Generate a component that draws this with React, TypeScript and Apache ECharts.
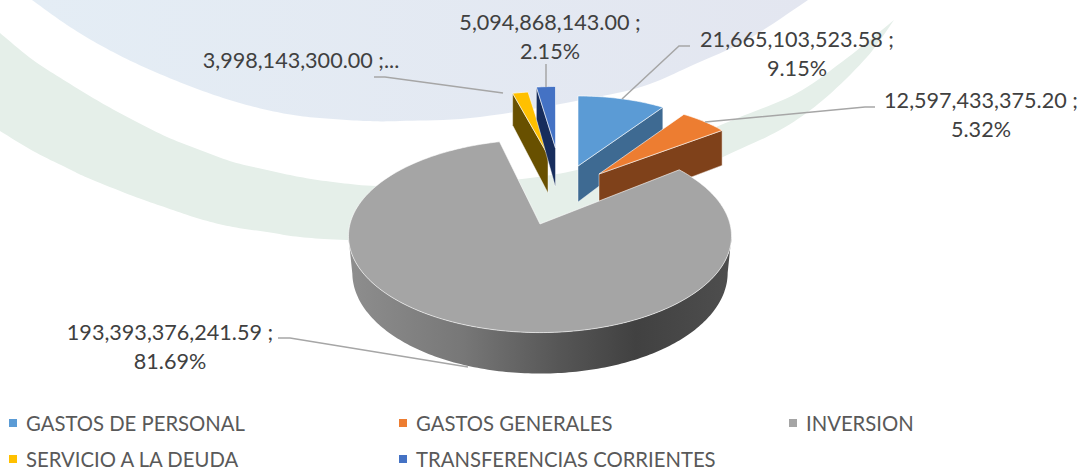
import React, { useEffect, useRef } from "react";
import * as echarts from "echarts";

const sliceNames = ["GASTOS DE PERSONAL", "GASTOS GENERALES", "INVERSION", "SERVICIO A LA DEUDA", "TRANSFERENCIAS CORRIENTES"];
const sliceValues = [21665103523.58, 12597433375.2, 193393376241.59, 3998143300.0, 5094868143.0];
const sliceColors = ["#5b9bd5", "#ed7d31", "#a5a5a5", "#ffc000", "#4472c4"];
const wallColors = ["#3e6a92", "#7f411a", "", "#685000", "#172d5c"];
const truncated = [false, false, false, true, false];

// Projection of each exploded slice (3D pie look)
const geometry = [
  { cx: 578, cy: 166, rx: 156, ry: 70, k: 0, dApex: 36, dOuter: 31, wall: "end" },
  { cx: 599, cy: 174, rx: 156, ry: 71, k: 0, dApex: 38, dOuter: 35, wall: "end" },
  { cx: 540, cy: 224, rx: 190, ry: 95, k: 0.125, dApex: 0, dOuter: 0, wall: "arc" },
  { cx: 548, cy: 155, rx: 148, ry: 63.5, k: 0, dApex: 38, dOuter: 32, wall: "start" },
  { cx: 555.5, cy: 148, rx: 142, ry: 61.5, k: 0, dApex: 39, dOuter: 32, wall: "start" },
];
const labelPos = [[797, 39, 29], [981, 100, 29], [170, 332, 29], [301, 60, 29], [550, 22, 29]];
const leaders = [
  [[622, 99], [679, 46], [690, 46]],
  [[705, 122], [865, 107], [875, 107]],
  [[468, 367], [290, 338], [278, 338]],
  [[503, 93], [385, 77], [374, 77]],
  [[546, 87], [546, 64]],
];
const legendSlots = [[9, 413], [399, 413], [789, 413], [9, 449], [399, 449]];

const blueEdge = [[32, 0], [67, 25], [100, 45], [133, 62], [167, 77], [200, 90], [233, 101], [267, 110], [300, 116], [333, 119], [367, 121], [400, 121], [480, 117], [597, 97], [647, 85], [693, 65], [747, 40], [808, 0]];
const greenUpper = [[0, 33], [33, 60], [67, 82], [100, 102], [133, 120], [167, 137], [200, 150], [233, 162], [267, 170], [300, 177], [333, 182], [377, 186], [450, 186], [522, 179], [577, 170], [640, 152], [700, 133], [740, 117], [797, 93], [847, 58], [894, 20]];
const greenLower = [[894, 20], [867, 57], [823, 100], [780, 130], [723, 157], [640, 198], [540, 232], [440, 241], [347, 240], [300, 237], [267, 232], [233, 227], [200, 219], [167, 208], [133, 196], [88, 178], [67, 168], [33, 151], [0, 131]];

const total = sliceValues.reduce((a, b) => a + b, 0);
const rad = Math.PI / 180;

function smooth(pts: number[][]) {
  const out: number[][] = [];
  for (let i = 0; i < pts.length - 1; i++) {
    const p0 = pts[Math.max(i - 1, 0)], p1 = pts[i], p2 = pts[i + 1], p3 = pts[Math.min(i + 2, pts.length - 1)];
    for (let t = 0; t < 1; t += 0.1) {
      const t2 = t * t, t3 = t2 * t;
      out.push([0, 1].map((d) => 0.5 * (2 * p1[d] + (p2[d] - p0[d]) * t + (2 * p0[d] - 5 * p1[d] + 4 * p2[d] - p3[d]) * t2 + (3 * p1[d] - p0[d] - 3 * p2[d] + p3[d]) * t3)));
    }
  }
  out.push(pts[pts.length - 1]);
  return out;
}

function project(g: any, deg: number) {
  const wx = Math.sin(deg * rad), wy = Math.cos(deg * rad);
  const f = 1 / (1 + g.k * wy);
  return [g.cx + g.rx * wx * f, g.cy - g.ry * wy * f];
}

function sliceAngles(i: number) {
  let s = 0;
  for (let j = 0; j < i; j++) s += sliceValues[j];
  return [(s / total) * 360, ((s + sliceValues[i]) / total) * 360];
}

function labelText(i: number) {
  const v = sliceValues[i].toLocaleString("en-US", { minimumFractionDigits: 2, maximumFractionDigits: 2 });
  if (truncated[i]) return `${v} ;...`;
  return `${v} ;\n${((sliceValues[i] / total) * 100).toFixed(2)}%`;
}

const edgeStroke = "rgba(255,255,255,0.75)";
const labelFont = "21.6px Lato";

function renderSlice(i: number) {
  const g: any = geometry[i];
  const [a0, a1] = sliceAngles(i);
  const children: any[] = [];
  const top: number[][] = [[g.cx, g.cy]];
  for (let a = a0; a < a1; a += 1) top.push(project(g, a));
  top.push(project(g, a1));

  if (g.wall === "arc") {
    const lo = (Math.acos(-g.k) / rad);
    const hi = 360 - lo;
    const upper: number[][] = [], lower: number[][] = [];
    for (let a = lo; a <= hi; a += 1) {
      const p = project(g, a);
      const c = Math.cos(a * rad);
      upper.push(p);
      lower.push([g.cx + (p[0] - g.cx) * 0.98, p[1] + 36 + 5 * Math.max(0, -c)]);
    }
    children.push({
      type: "polygon",
      shape: { points: upper.concat(lower.reverse()) },
      style: {
        fill: new echarts.graphic.LinearGradient(0, 0, 1, 0, [
          { offset: 0, color: "#8e8e8e" },
          { offset: 0.3, color: "#777777" },
          { offset: 0.55, color: "#565656" },
          { offset: 0.75, color: "#414141" },
          { offset: 1, color: "#4e4e4e" },
        ]),
      },
    });
  } else {
    const edge = project(g, g.wall === "end" ? a1 : a0);
    children.push({
      type: "polygon",
      shape: { points: [[g.cx, g.cy], edge, [edge[0], edge[1] + g.dOuter], [g.cx, g.cy + g.dApex]] },
      style: { fill: wallColors[i], stroke: edgeStroke, lineWidth: 0.6 },
    });
  }
  children.push({
    type: "polygon",
    shape: { points: top },
    style: { fill: sliceColors[i], stroke: edgeStroke, lineWidth: 0.8 },
  });
  children.push({
    type: "polyline",
    shape: { points: leaders[i] },
    style: { stroke: "#a6a6a6", lineWidth: 1.5, fill: "none" },
  });
  children.push({
    type: "text",
    style: {
      x: labelPos[i][0], y: labelPos[i][1] - 15,
      text: labelText(i), font: labelFont, fill: "#404040",
      align: "center", verticalAlign: "top", lineHeight: labelPos[i][2],
    },
  });
  return { type: "group", children };
}

const drawOrder = [0, 1, 2, 3, 4];

export default function App() {
  const ref = useRef<HTMLDivElement>(null);
  useEffect(() => {
    const chart = echarts.init(ref.current!, undefined, { renderer: "svg" });
    chart.setOption({
      animation: false,
      backgroundColor: "#ffffff",
      legend: sliceNames.map((name, i) => ({
        left: legendSlots[i][0], top: legendSlots[i][1], padding: 0,
        itemWidth: 8, itemHeight: 8, icon: "rect", selectedMode: false,
        textStyle: { fontFamily: "Lato", fontSize: 20.3, color: "#595959", padding: [0, 0, 0, 4] },
        data: [name],
      })),
      graphic: [
        { type: "polygon", z: 0, shape: { points: smooth(greenUpper).concat(smooth(greenLower)) }, style: { fill: "#e5efe9" } },
        {
          type: "polygon", z: 1, shape: { points: smooth(blueEdge) },
          style: { fill: new echarts.graphic.LinearGradient(0, 0, 1, 0, [{ offset: 0, color: "#e4edf5" }, { offset: 1, color: "#e3e6f0" }]) },
        },
      ],
      series: drawOrder.map((i) => ({
        type: "custom",
        name: sliceNames[i],
        coordinateSystem: "none",
        silent: true,
        z: 10 + i,
        itemStyle: { color: sliceColors[i] },
        data: [sliceValues[i]],
        renderItem: () => renderSlice(i),
      })),
    });
    return () => chart.dispose();
  }, []);
  return <div ref={ref} style={{ position: "absolute", left: 0, top: 0, width: 1081, height: 468 }} />;
}
